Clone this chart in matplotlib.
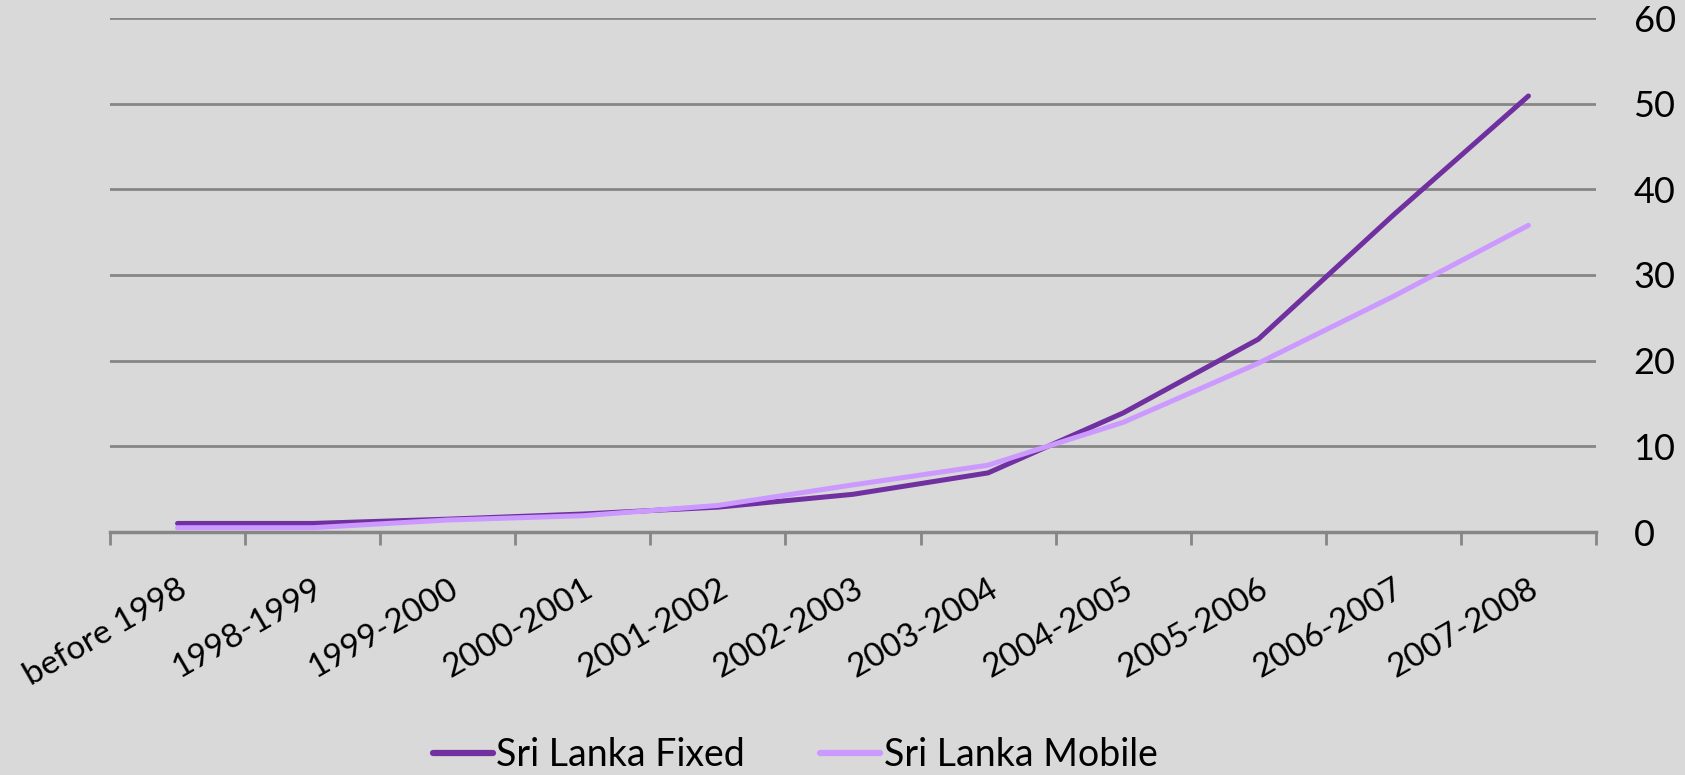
import matplotlib
matplotlib.use("Agg")
import matplotlib.pyplot as plt

categories = ["before 1998", "1998-1999", "1999-2000", "2000-2001", "2001-2002",
              "2002-2003", "2003-2004", "2004-2005", "2005-2006", "2006-2007", "2007-2008"]
fixed = [1.0, 1.0, 1.5, 2.1, 2.9, 4.4, 6.9, 13.9, 22.5, 37.0, 50.9]
mobile = [0.5, 0.5, 1.4, 1.9, 3.1, 5.5, 7.8, 12.8, 19.7, 27.5, 35.8]
yticks = [0, 10, 20, 30, 40, 50, 60]

plt.rcParams['font.family'] = ['Lato', 'DejaVu Sans']
BG = '#d9d9d9'
GRID = '#868686'

fig = plt.figure(figsize=(16.85, 7.75), dpi=100, facecolor=BG)
ax = fig.add_axes([110/1685, 1 - 532/775, (1596-110)/1685, (532-18)/775])
ax.set_facecolor(BG)

x = list(range(len(categories)))
ax.plot(x, fixed, color='#7030a0', lw=3.6, solid_capstyle='round', label='Sri Lanka Fixed', zorder=3)
ax.plot(x, mobile, color='#cc99ff', lw=3.6, solid_capstyle='round', label='Sri Lanka Mobile', zorder=4)

ax.set_xlim(-0.5, len(categories) - 0.5)
ax.set_ylim(0, 60)
ax.set_yticks(yticks)
ax.yaxis.tick_right()
ax.tick_params(axis='y', length=0, pad=27, labelsize=26)
for v in yticks[1:]:
    ax.axhline(v, color=GRID, lw=2, zorder=1)

ax.set_xticks(x)
ax.set_xticklabels(categories, rotation=30, ha='right', va='top', rotation_mode='anchor', fontsize=24)
ax.tick_params(axis='x', length=0, pad=30)
ax.set_xticks([i - 0.5 for i in range(len(categories) + 1)], minor=True)
ax.tick_params(axis='x', which='minor', length=9, width=2, color=GRID, direction='out')

for s in ['top', 'right', 'left']:
    ax.spines[s].set_visible(False)
ax.spines['bottom'].set_color(GRID)
ax.spines['bottom'].set_linewidth(2.5)

leg = fig.legend(loc='center', bbox_to_anchor=(740/1568, 1 - 755/775), ncol=2, frameon=False,
                 fontsize=27, handlelength=1.6, handletextpad=0.1, columnspacing=2.0)
for line in leg.get_lines():
    line.set_linewidth(4.5)
fig.savefig('out.png', dpi=100, facecolor=BG)
